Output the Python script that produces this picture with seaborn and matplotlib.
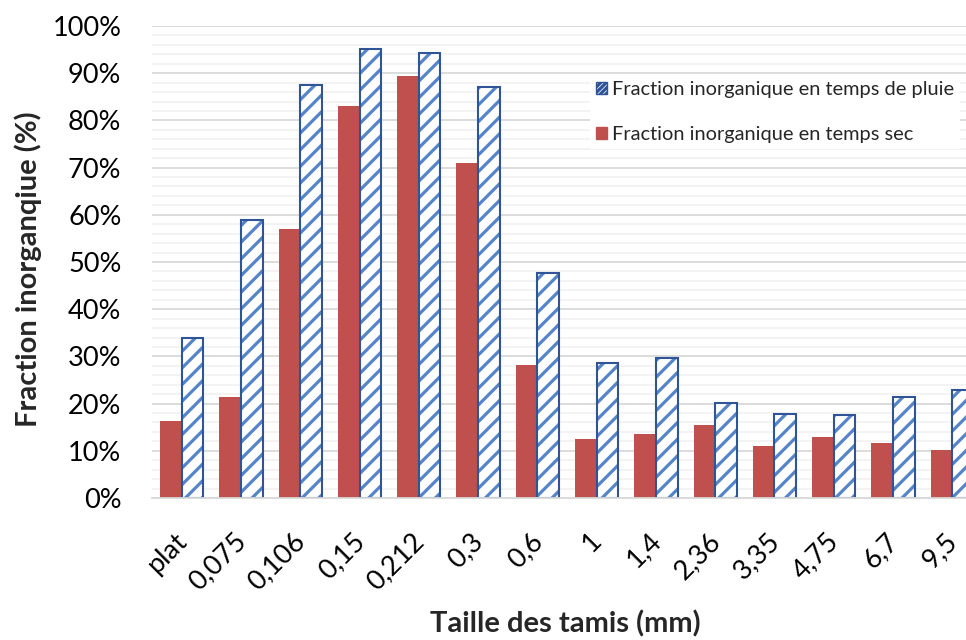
import matplotlib
matplotlib.use("Agg")
import matplotlib.pyplot as plt
import matplotlib.patches as mpatches
from matplotlib.ticker import MultipleLocator, FuncFormatter
import matplotlib.transforms as mtransforms
import seaborn as sns
import pandas as pd

categories = ["plat", "0,075", "0,106", "0,15", "0,212", "0,3", "0,6", "1", "1,4",
              "2,36", "3,35", "4,75", "6,7", "9,5"]
sec = [16.3, 21.4, 57.0, 83.0, 89.5, 71.0, 28.1, 12.6, 13.6, 15.4, 11.1, 12.9, 11.6, 10.2]
pluie = [34.0, 59.0, 87.5, 95.2, 94.2, 87.0, 47.7, 28.5, 29.6, 20.1, 17.7, 17.5, 21.5, 22.9]
label_sec = "Fraction inorganique en temps sec"
label_pluie = "Fraction inorganique en temps de pluie"

df = pd.DataFrame({
    "cat": categories * 2,
    "val": sec + pluie,
    "serie": [label_sec] * len(sec) + [label_pluie] * len(pluie),
})

sns.set_theme(style="white")
plt.rcParams["font.family"] = ["Lato", "DejaVu Sans"]
plt.rcParams["hatch.linewidth"] = 2.3

RED = "#c0504d"
BLUE_EDGE = "#2f5597"
STRIPE = "#5585c8"

fig = plt.figure(figsize=(9.66, 6.40), dpi=100)
ax = fig.add_axes([152 / 966, (640 - 498) / 640, (982 - 152) / 966, (498 - 26) / 640])

# filled bars (red solid, blue hatched)
sns.barplot(data=df, x="cat", y="val", hue="serie", hue_order=[label_sec, label_pluie],
            palette=[RED, "white"], width=0.73, ax=ax, legend=False, saturation=1,
            errorbar=None)
for p in ax.containers[0]:
    p.set_edgecolor(RED)
    p.set_linewidth(0)
for p in ax.containers[1]:
    p.set_facecolor("white")
    p.set_hatch("//")
    p.set_edgecolor(STRIPE)
    p.set_linewidth(0)

# outlines for the hatched bars
sns.barplot(data=df, x="cat", y="val", hue="serie", hue_order=[label_sec, label_pluie],
            palette=[RED, BLUE_EDGE], width=0.73, ax=ax, legend=False, saturation=1,
            errorbar=None, fill=False)
for p in ax.containers[2]:
    p.set_visible(False)
for p in ax.containers[3]:
    p.set_facecolor("none")
    p.set_edgecolor(BLUE_EDGE)
    p.set_linewidth(1.5)

ax.set_ylim(0, 100)
ax.set_xlim(-0.5, len(categories) - 0.5)
ax.yaxis.set_major_locator(MultipleLocator(10))
ax.yaxis.set_minor_locator(MultipleLocator(2))
ax.yaxis.set_major_formatter(FuncFormatter(lambda v, pos: f"{v:.0f}%"))
ax.grid(axis="y", which="major", color="#d9d9d9", linewidth=1.3)
ax.grid(axis="y", which="minor", color="#f2f2f2", linewidth=1.3)
ax.set_axisbelow(True)
for s in ["top", "right", "left"]:
    ax.spines[s].set_visible(False)
ax.spines["bottom"].set_color("#d9d9d9")
ax.spines["bottom"].set_linewidth(1.3)
ax.tick_params(axis="both", which="both", length=0)
ax.tick_params(axis="y", labelsize=19.5, pad=22, labelcolor="black")
ax.tick_params(axis="x", labelsize=19.5, pad=0, labelcolor="black")
ax.set_xlabel("")
ax.set_ylabel("")

offset = mtransforms.ScaledTranslation(1 / 100, -39 / 100, fig.dpi_scale_trans)
for lbl in ax.get_xticklabels():
    lbl.set_rotation(45)
    lbl.set_ha("right")
    lbl.set_va("center")
    lbl.set_rotation_mode("anchor")
    lbl.set_transform(lbl.get_transform() + offset)

fig.text(565 / 966, 1 - 624 / 640, "Taille des tamis (mm)", ha="center", va="center",
         fontsize=21, fontweight="bold")
fig.text(28 / 966, 1 - 269 / 640, "Fraction inorganqiue (%)", ha="center", va="center",
         rotation=90, fontsize=21, fontweight="bold")

h_pluie = mpatches.Patch(facecolor="white", edgecolor=BLUE_EDGE, hatch="//////", linewidth=1.0)
h_sec = mpatches.Patch(facecolor=RED, edgecolor=RED)
leg = ax.legend([h_pluie, h_sec], [label_pluie, label_sec], loc="upper left",
                bbox_to_anchor=(580 / 966, 1 - 65 / 640), bbox_transform=fig.transFigure,
                frameon=True, fancybox=False, framealpha=1, edgecolor="white",
                fontsize=14.4, handlelength=0.55, handleheight=0.55, handletextpad=0.25,
                labelspacing=1.4, borderpad=0.3)
leg.get_frame().set_linewidth(0)

fig.savefig("out.png", dpi=100, facecolor="white")
